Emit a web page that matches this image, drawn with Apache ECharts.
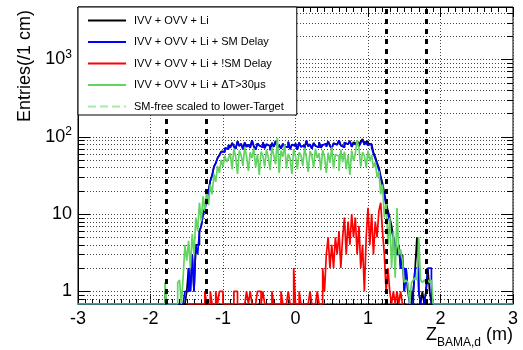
<!DOCTYPE html>
<html>
<head>
<meta charset="utf-8">
<script src="https://cdn.jsdelivr.net/npm/echarts@6.0.0/dist/echarts.min.js"></script>
<style>
html, body { margin: 0; padding: 0; background: #fff; }
#chart { width: 523px; height: 350px; }
</style>
</head>
<body>
<div id="chart"></div>
<script>
// histogram bins (entries per 1 cm)
var binWidth = 0.025;
var mainStart = -1.8;   // first bin of black / blue / green
var redStart = -1.5;    // first bin of red
var yFloor = 0.686;     // bottom of the frame (empty bins are drawn here)
var yTop = 4760;

var seriesNames = [
  'IVV + OVV + Li',
  'IVV + OVV + Li + SM Delay',
  'IVV + OVV + Li + !SM Delay',
  'IVV + OVV + Li + \u0394T>30\u03bcs',
  'SM-free scaled to lower-Target'
];

var blackVals = [
  1, 0, 0, 0, 0, 0, 0, 0, 0, 0,
  0, 0, 1, 2, 1, 3, 1, 4, 4, 6,
  7, 10, 12, 16, 20, 27, 32, 41, 46, 53,
  58, 64, 65, 71, 70,
  78, 72, 83, 75, 70, 87, 76, 81, 69, 84,
  74, 79, 72, 90, 75, 68, 82, 77, 73, 85,
  71, 80, 76, 67, 83, 74, 88, 72, 78, 70,
  81, 75, 73, 86, 69, 79, 76, 82, 68, 84,
  74, 77, 71, 89, 75, 80, 70, 83, 76, 73,
  85, 72, 78, 81, 74, 87, 76, 71, 82, 79,
  75, 90, 77, 73, 84, 80, 76, 88, 74, 85,
  81, 89, 79, 87, 93, 84, 88, 82, 79,
  75, 63, 55, 46, 40, 31, 25, 19, 14, 11,
  9, 7, 5, 4, 3, 4, 2, 3, 1, 2,
  1, 1, 0, 1, 2, 5, 1, 0, 1, 0,
  1, 2, 1, 0, 0
];

var blueVals = [
  0, 0, 0, 0, 0, 0, 0, 0, 0, 0,
  0, 1, 1, 2, 1, 3, 1, 4, 3, 6,
  7, 10, 11, 16, 19, 27, 31, 41, 45, 53,
  57, 64, 63, 71, 69,
  78, 72, 83, 75, 70, 87, 76, 81, 69, 84,
  74, 79, 72, 90, 75, 68, 82, 77, 73, 85,
  71, 80, 76, 67, 83, 74, 88, 72, 78, 70,
  81, 75, 73, 86, 69, 79, 76, 82, 68, 84,
  74, 77, 71, 89, 75, 80, 70, 83, 76, 73,
  85, 72, 78, 81, 74, 87, 76, 71, 82, 79,
  75, 90, 77, 73, 84, 80, 76, 88, 74, 82,
  78, 86, 75, 83, 91, 79, 84, 77, 81,
  72, 60, 52, 44, 37, 29, 23, 17, 13, 10,
  8, 6, 5, 3, 3, 4, 2, 2, 1, 2,
  1, 0, 0, 1, 2, 2, 1, 0, 0, 0,
  1, 2, 2, 0, 0
];

var greenVals = [
  1.3, 0, 0, 0, 0, 0, 0, 1.3, 1.4, 0,
  1.5, 4, 2.5, 4.5, 2, 5.5, 3, 9, 6, 14,
  8, 17, 11, 20, 13, 24, 18, 33, 26, 42,
  34, 50, 41, 57, 47,
  52, 61, 38, 70, 55, 33, 66, 58, 42, 74,
  56, 36, 63, 53, 71, 40, 59, 32, 64, 57,
  41, 68, 54, 37, 73, 58, 44, 96, 34, 66,
  55, 79, 39, 60, 52, 33, 69, 56, 38, 63,
  58, 42, 72, 54, 35, 65, 57, 40, 70, 53,
  61, 37, 67, 55, 34, 62, 46, 74, 39, 59,
  56, 36, 68, 47, 64, 38, 58, 32, 66, 49,
  60, 90, 71, 41, 63, 57, 40, 66, 48,
  58, 40, 47, 30, 36, 18, 24, 9, 14, 4,
  9, 2, 6, 1.5, 12, 3, 3.5, 2.5, 1.3, 1.4,
  1.3, 0, 1.3, 1.4, 1.5, 1.4, 5, 1.4, 1.3, 1.4,
  1.3, 1.4, 1.3, 1.4, 0
];

var redVals = [
  0, 0, 0, 0, 0, 0, 0, 0, 0, 0,
  1, 0, 0, 1, 0, 0, 1, 0, 1, 1,
  0, 0, 0, 0, 0, 0, 1, 1, 0, 0,
  0, 0, 0, 1, 0, 1, 0, 0, 0, 1,
  1, 0, 1, 0, 0, 0, 0, 1, 0, 0,
  0, 0, 1, 0, 0, 0, 1, 0, 0, 2,
  0, 0, 1, 0, 0, 0, 0, 0, 1, 0,
  0, 0, 1, 0, 0, 2, 1, 3, 5, 2,
  4, 2, 5, 3, 6, 2, 5, 9, 3, 8,
  4, 10, 5, 9, 3, 7, 2, 4, 1, 5,
  12, 4, 10, 3, 8, 5, 11, 14, 6, 3,
  1, 2, 1, 0, 1, 0, 1, 0, 1, 0
];

// vertical dashed cut positions
var cutLines = [-1.78, -1.225, 1.25, 1.81];

// horizontal grid / tick positions of the log axis
var yGridVals = [
  0.7, 0.8, 0.9,
  1, 2, 3, 4, 5, 6, 7, 8, 9,
  10, 20, 30, 40, 50, 60, 70, 80, 90,
  100, 200, 300, 400, 500, 600, 700, 800, 900,
  1000, 2000, 3000, 4000
];

var font = '"Liberation Sans", Arial, Helvetica, sans-serif';

function histPoints(start, vals, from, to) {
  var pts = [[from, yFloor]];
  for (var i = 0; i < vals.length; i++) {
    pts.push([start + i * binWidth, vals[i] > 0 ? vals[i] : yFloor]);
  }
  var end = start + vals.length * binWidth;
  pts.push([end, yFloor]);
  if (to > end) pts.push([to, yFloor]);
  return pts;
}

function isDecade(v) {
  var l = Math.log(v) / Math.LN10;
  return Math.abs(l - Math.round(l)) < 1e-6;
}

function renderYGrid(params, api) {
  var v = api.value(1);
  var a = api.coord([-3, v]);
  var b = api.coord([3, v]);
  var y = Math.round(a[1]) + 0.5;
  var len = isDecade(v) ? 12 : 6;
  return {
    type: 'group',
    children: [
      { type: 'line', shape: { x1: a[0], y1: y, x2: b[0], y2: y },
        style: { stroke: '#444', lineWidth: 1, lineDash: [1, 2] } },
      { type: 'line', shape: { x1: a[0], y1: y, x2: a[0] + len, y2: y },
        style: { stroke: '#000', lineWidth: 1 } },
      { type: 'line', shape: { x1: b[0] - len, y1: y, x2: b[0], y2: y },
        style: { stroke: '#000', lineWidth: 1 } }
    ]
  };
}

function histSeries(name, color, pts) {
  return {
    name: name,
    type: 'line',
    step: 'end',
    data: pts,
    symbol: 'none',
    showSymbol: false,
    lineStyle: { color: color, width: 1.7 },
    itemStyle: { color: color, opacity: 0 },
    z: 2,
    silent: true
  };
}

var chart = echarts.init(document.getElementById('chart'));
chart.setOption({
  animation: false,
  backgroundColor: '#fff',
  textStyle: { fontFamily: font },
  grid: {
    left: 78, right: 10, top: 7, bottom: 46,
    show: true, borderColor: '#000', borderWidth: 1,
    outerBoundsMode: 'none'
  },
  legend: {
    data: seriesNames,
    orient: 'vertical',
    left: 78, top: 7,
    padding: [8, 13, 3, 9],
    itemGap: 10.5, itemWidth: 38, itemHeight: 13.75,
    backgroundColor: '#fff', borderColor: '#000', borderWidth: 1, borderRadius: 0,
    selectedMode: false,
    z: 10,
    itemStyle: { opacity: 0 },
    textStyle: { fontSize: 11, color: '#000', fontFamily: font, padding: [0, 0, 0, 3] }
  },
  xAxis: [{
    type: 'value', min: -3, max: 3, interval: 1, position: 'bottom',
    axisLine: { show: true, onZero: false, lineStyle: { color: '#000' } },
    axisTick: { show: true, inside: true, length: 10, lineStyle: { color: '#000' } },
    minorTick: { show: true, splitNumber: 10, length: 5, lineStyle: { color: '#000' } },
    splitLine: { show: true, lineStyle: { color: '#444', type: [1, 2] } },
    axisLabel: { fontSize: 18, color: '#000', margin: 6, fontFamily: font },
    name: '{z|Z}{s|BAMA,d}{z| (m)}',
    nameLocation: 'end',
    nameGap: 0,
    nameMoveOverlap: false,
    nameTextStyle: {
      align: 'right', verticalAlign: 'top', padding: [22, 0, 0, 0],
      rich: {
        z: { fontSize: 18, color: '#000', lineHeight: 20, verticalAlign: 'top', fontFamily: font },
        s: { fontSize: 12, color: '#000', lineHeight: 12, verticalAlign: 'top', padding: [11, 0, 0, 0], fontFamily: font }
      }
    }
  }, {
    type: 'value', min: -3, max: 3, interval: 1, position: 'top',
    axisLine: { show: true, onZero: false, lineStyle: { color: '#000' } },
    axisTick: { show: true, inside: true, length: 10, lineStyle: { color: '#000' } },
    minorTick: { show: true, splitNumber: 10, length: 5, lineStyle: { color: '#000' } },
    splitLine: { show: false },
    axisLabel: { show: false }
  }],
  yAxis: {
    type: 'log', logBase: 10, min: yFloor, max: yTop,
    axisLine: { show: true, onZero: false, lineStyle: { color: '#000' } },
    axisTick: { show: false },
    minorTick: { show: false },
    splitLine: { show: false },
    axisLabel: {
      margin: 6, fontSize: 18, color: '#000', fontFamily: font,
      formatter: function (v) {
        if (!isDecade(v)) return '';
        var p = Math.round(Math.log(v) / Math.LN10);
        if (p === 0) return '{b|1}';
        if (p === 1) return '{b|10}';
        return '{b|10}{p|' + p + '}';
      },
      rich: {
        b: { fontSize: 18, lineHeight: 20, color: '#000', fontFamily: font },
        p: { fontSize: 12, lineHeight: 12, color: '#000', padding: [0, 0, 10, 0], fontFamily: font }
      }
    },
    name: 'Entries(/1 cm)',
    nameLocation: 'middle',
    nameGap: 44,
    nameMoveOverlap: false,
    nameTextStyle: { fontSize: 18, color: '#000', fontFamily: font, padding: [0, 0, 0, 179] }
  },
  series: [
    {
      type: 'custom',
      name: 'grid',
      renderItem: renderYGrid,
      data: yGridVals.map(function (v) { return [0, v]; }),
      encode: { x: 0, y: 1 },
      z: 1,
      silent: true
    },
    histSeries(seriesNames[0], '#000000', histPoints(mainStart, blackVals, -3, 3)),
    histSeries(seriesNames[1], '#0000ff', histPoints(mainStart, blueVals, -3, 3)),
    histSeries(seriesNames[3], '#62d462', histPoints(mainStart, greenVals, -3, 3)),
    histSeries(seriesNames[2], '#ff0000', histPoints(redStart, redVals, redStart, 1.5)),
    {
      name: seriesNames[4],
      type: 'line',
      data: [],
      symbol: 'none',
      lineStyle: { color: '#a8e8a8', width: 1.5, type: 'dashed' },
      itemStyle: { color: '#a8e8a8', opacity: 0 }
    },
    {
      name: 'cuts',
      type: 'line',
      data: [],
      z: 4,
      markLine: {
        silent: true,
        symbol: ['none', 'none'],
        label: { show: false },
        lineStyle: { color: '#000', width: 3, type: [5, 5] },
        data: cutLines.map(function (x) { return { xAxis: x }; })
      }
    }
  ]
});
</script>
</body>
</html>
